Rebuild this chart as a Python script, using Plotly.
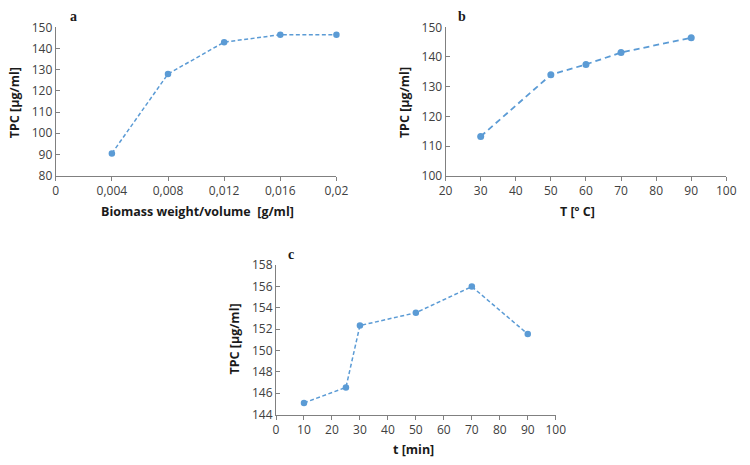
import plotly.graph_objects as go

# Panel a
a_x = [0.004, 0.008, 0.012, 0.016, 0.02]
a_y = [90.5, 128.0, 143.0, 146.5, 146.5]
a_ticks = [0, 0.004, 0.008, 0.012, 0.016, 0.02]
a_ticktext = ["0", "0,004", "0,008", "0,012", "0,016", "0,02"]
a_yticks = [80, 90, 100, 110, 120, 130, 140, 150]

# Panel b
b_x = [30, 50, 60, 70, 90]
b_y = [113.2, 134.0, 137.5, 141.5, 146.5]
b_ticks = [20, 30, 40, 50, 60, 70, 80, 90, 100]
b_yticks = [100, 110, 120, 130, 140, 150]

# Panel c
c_x = [10, 25, 30, 50, 70, 90]
c_y = [145.1, 146.55, 152.35, 153.55, 156.0, 151.55]
c_ticks = [0, 10, 20, 30, 40, 50, 60, 70, 80, 90, 100]
c_yticks = [144, 146, 148, 150, 152, 154, 156, 158]

COLOR = "#5B9BD5"
AXIS = "#808080"
TICKFONT = dict(family="Open Sans, Liberation Sans, sans-serif", size=12, color="#404040")

fig = go.Figure()
line = dict(color=COLOR, width=1.5, dash="4px,2.5px")
line_b = dict(color=COLOR, width=1.8, dash="6px,4px")
marker = dict(color=COLOR, size=6.5)
marker_b = dict(color=COLOR, size=7)
fig.add_trace(go.Scatter(x=a_x, y=a_y, mode="lines+markers", line=line, marker=marker, xaxis="x", yaxis="y", cliponaxis=False))
fig.add_trace(go.Scatter(x=b_x, y=b_y, mode="lines+markers", line=line_b, marker=marker_b, xaxis="x2", yaxis="y2", cliponaxis=False))
fig.add_trace(go.Scatter(x=c_x, y=c_y, mode="lines+markers", line=line, marker=marker, xaxis="x3", yaxis="y3", cliponaxis=False))

W, H = 750, 465
def dx(a, b):
    return [a / W, b / W]
def dy(top, bot):
    return [1 - bot / H, 1 - top / H]

def xax(domain, anchor, rng, tv, tt=None):
    d = dict(domain=domain, anchor=anchor, range=rng, tickvals=tv, showgrid=False, zeroline=False,
             showline=True, linecolor=AXIS, linewidth=1, ticks="outside", ticklen=4, tickcolor=AXIS,
             tickfont=TICKFONT, fixedrange=True)
    if tt is not None:
        d["ticktext"] = tt
    return d

def yax(domain, anchor, rng, tv):
    return dict(domain=domain, anchor=anchor, range=rng, tickvals=tv, showgrid=False, zeroline=False,
                showline=True, linecolor=AXIS, linewidth=1, ticks="inside", ticklen=4, tickcolor=AXIS,
                tickfont=TICKFONT, fixedrange=True)

fig.update_layout(
    width=W, height=H, margin=dict(l=0, r=0, t=0, b=0),
    paper_bgcolor="white", plot_bgcolor="white", showlegend=False,
    xaxis=xax(dx(50, 338), "y", [0, 0.02], a_ticks, a_ticktext),
    yaxis=yax(dy(19, 173), "x", [80, 150], a_yticks),
    xaxis2=xax(dx(450, 738), "y2", [20, 100], b_ticks),
    yaxis2=yax(dy(19, 173), "x2", [100, 150], b_yticks),
    xaxis3=xax(dx(276, 563), "y3", [0, 100], c_ticks),
    yaxis3=yax(dy(266, 421), "x3", [144, 158], c_yticks),
)

TITLEFONT = dict(family="Open Sans, Liberation Sans, sans-serif", size=12.5, color="#1a1a1a")
LABELFONT = dict(family="Liberation Serif, DejaVu Serif, serif", size=14, color="#1a1a1a")

def ann(text, x, y, font, angle=0):
    fig.add_annotation(text=text, x=x / W, y=1 - y / H, xref="paper", yref="paper",
                       showarrow=False, font=font, textangle=angle, xanchor="center", yanchor="middle")

ann("<b>Biomass weight/volume  [g/ml]</b>", 195, 210, TITLEFONT)
ann("<b>TPC [µg/ml]</b>", 8, 97, TITLEFONT, -90)
ann("<b>a</b>", 68, 8, LABELFONT)

ann("<b>T [º C]</b>", 585, 210, TITLEFONT)
ann("<b>TPC [µg/ml]</b>", 408, 97, TITLEFONT, -90)
ann("<b>b</b>", 467, 8, LABELFONT)

ann("<b>t [min]</b>", 417, 457, TITLEFONT)
ann("<b>TPC [µg/ml]</b>", 233, 343, TITLEFONT, -90)
ann("<b>c</b>", 291, 255, LABELFONT)

fig.write_html("out.html")
